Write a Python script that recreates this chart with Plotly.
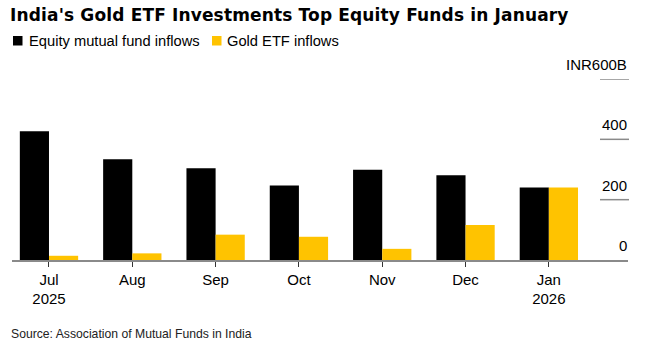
import plotly.graph_objects as go

months = ["Jul", "Aug", "Sep", "Oct", "Nov", "Dec", "Jan"]
tick_text = ["Jul<br>2025", "Aug", "Sep", "Oct", "Nov", "Dec", "Jan<br>2026"]
equity = [427, 334, 304, 247, 299, 281, 240]
gold = [14, 22, 84, 77, 37, 116, 240]
y_ticks = [0, 200, 400, 600]
y_labels = ["0", "200", "400", "INR600B"]
series_names = ["Equity mutual fund inflows", "Gold ETF inflows"]
series_colors = ["#000000", "#FFC300"]

FONT = "Liberation Sans, Arial, sans-serif"
TFONT = "DejaVu Sans"
W, H = 670, 347
L, R, T, B = 12, 42, 79, 87
pw = W - L - R
ph = H - T - B


def px_x(px):
    return (px - L) / pw


def px_y(py):
    return (H - B - py) / ph


fig = go.Figure()
for vals, name, col in zip([equity, gold], series_names, series_colors):
    fig.add_trace(go.Bar(x=list(range(len(months))), y=vals, name=name,
                         marker=dict(color=col, line=dict(width=0))))

shapes = []
annotations = []
gx0, gx1 = px_x(600), px_x(629)
for v, lab in zip(y_ticks, y_labels):
    if v > 0:
        shapes.append(dict(type="line", xref="paper", yref="y", x0=gx0, x1=gx1, y0=v, y1=v,
                           line=dict(color="#8a8a8a", width=1.5), layer="below"))
    annotations.append(dict(xref="paper", yref="y", x=gx1, y=v, text=lab, showarrow=False,
                            xanchor="right", yanchor="bottom", yshift=4,
                            font=dict(family=FONT, size=15, color="#000")))

annotations.append(dict(xref="paper", yref="paper", x=px_x(11), y=px_y(333.5), text="Source: Association of Mutual Funds in India",
                        showarrow=False, xanchor="left", yanchor="middle", xshift=-2,
                        font=dict(family=FONT, size=12.2, color="#222")))

# legend swatches + labels
leg_sq_x = [13, 212]
leg_txt_x = [28.5, 226.5]
for name, col, sx, tx in zip(series_names, series_colors, leg_sq_x, leg_txt_x):
    shapes.append(dict(type="rect", xref="paper", yref="paper", x0=px_x(sx), x1=px_x(sx + 9.5),
                       y0=px_y(45.5), y1=px_y(36), fillcolor=col, line=dict(width=0)))
    annotations.append(dict(xref="paper", yref="paper", x=px_x(tx), y=px_y(41),
                            text=name, showarrow=False, xanchor="left", yanchor="middle", xshift=-2,
                            font=dict(family=FONT, size=14.7, color="#000")))

fig.update_layout(
    width=W, height=H,
    margin=dict(l=L, r=R, t=T, b=B),
    paper_bgcolor="white", plot_bgcolor="white",
    barmode="group", bargap=0.30, bargroupgap=0,
    title=dict(text="<b><span style='letter-spacing:0.15px'>India's Gold ETF Investments Top Equity Funds in January</span></b>",
               x=10 / W, xanchor="left", y=1 - 15.5 / H, yanchor="middle",
               font=dict(family=TFONT, size=17, color="#000")),
    showlegend=False,
    xaxis=dict(tickvals=list(range(len(months))), ticktext=tick_text, range=[-0.444, 6.95],
               showline=True, linecolor="#8a8a8a", linewidth=1.5, ticks="outside", ticklen=5,
               tickcolor="#333", tickwidth=1, showgrid=False, zeroline=False,
               tickfont=dict(family=FONT, size=15, color="#000")),
    yaxis=dict(range=[0, 600], showticklabels=False, showgrid=False, zeroline=False, fixedrange=True),
    shapes=shapes, annotations=annotations,
)

fig.write_html("out.html")
